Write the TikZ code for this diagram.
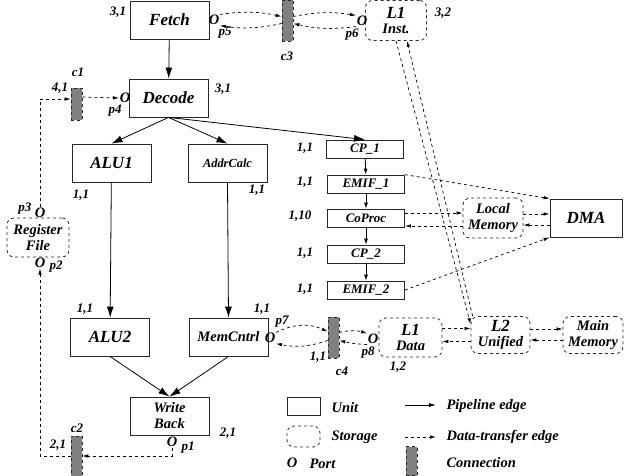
\documentclass[tikz,border=0pt]{standalone}
\usepackage{fontspec}
\setmainfont{Liberation Serif}
\usepackage{tikz}
\usetikzlibrary{positioning,arrows.meta,calc}
\definecolor{ConnGray}{RGB}{128,128,128}
\definecolor{EdgeBlack}{RGB}{40,40,40}
\newcommand{\fbig}{\fontsize{17}{18}\selectfont\bfseries\itshape}
\newcommand{\fmid}{\fontsize{14.5}{16}\selectfont\bfseries\itshape}
\newcommand{\fcpu}{\fontsize{13}{15}\selectfont\bfseries\itshape}
\newcommand{\fsml}{\fontsize{12.4}{14}\selectfont\bfseries\itshape}
\newcommand{\fnum}{\fontsize{13}{14}\selectfont\bfseries\itshape}

\begin{document}
\begin{tikzpicture}[x=1pt,y=-1pt,
unit/.style={draw=EdgeBlack,line width=0.8pt,inner sep=0pt,minimum width=79pt,minimum height=38pt,font=\fbig,align=center},
cpu/.style={unit,minimum width=77pt,minimum height=18pt,font=\fcpu},
store/.style={draw=EdgeBlack,line width=0.8pt,dashed,rounded corners=7pt,inner sep=0pt,font=\fmid,align=center},
conn/.style={draw=EdgeBlack,dashed,fill=ConnGray,line width=0.6pt,minimum width=11pt,inner sep=0pt},
port/.style={font=\fmid,inner sep=0.5pt},
lbl/.style={font=\fnum,inner sep=0pt},
pipe/.style={line width=0.8pt,-{Latex[length=11pt,width=7pt]}},
pipesm/.style={line width=0.8pt,-{Latex[length=6pt,width=4pt]}},
xfer/.style={line width=0.7pt,dashed,-{Latex[length=6pt,width=3.5pt]}}
]
\useasboundingbox (0,0) rectangle (625,475);
% pipeline units
\node[unit] (fetch) at (169.5,20) {Fetch};
\node[unit] (decode) at (168.5,98) {Decode};
\node[unit] (alu1) at (111.5,163) {ALU1};
\node[unit,font=\fsml] (addr) at (227.5,163) {AddrCalc};
\node[unit] (alu2) at (110,337) {ALU2};
\node[unit,font=\fmid] (memc) at (228.5,337) {MemCntrl};
\node[unit,font=\fmid] (wb) at (169.5,416) {Write\\Back};
\node[cpu] (cp1) at (365,149) {CP\_1};
\node[cpu] (emif1) at (366,184) {EMIF\_1};
\node[cpu] (coproc) at (366,218) {CoProc};
\node[cpu] (cp2) at (366,254) {CP\_2};
\node[cpu] (emif2) at (366,290) {EMIF\_2};
\node[unit,minimum width=72pt] (dma) at (586,218) {DMA};
% storages
\node[store,minimum width=61pt,minimum height=40pt] (l1i) at (396,20.5) {{\fbig L1}\\[-1pt]Inst.};
\node[store,minimum width=62pt,minimum height=39pt] (regf) at (38,237.5) {Register\\File};
\node[store,minimum width=60pt,minimum height=40pt] (locmem) at (493,218) {Local\\Memory};
\node[store,minimum width=63pt,minimum height=39pt] (l1d) at (410.5,337.5) {{\fbig L1}\\[-1pt]Data};
\node[store,minimum width=59pt,minimum height=37pt] (l2) at (500.5,335) {{\fbig L2}\\[-1pt]Unified};
\node[store,minimum width=60pt,minimum height=37pt] (mainm) at (593,335) {Main\\Memory};
% connections
\node[conn,minimum height=41pt] (c3) at (287.5,20.5) {};
\node[conn,minimum height=32pt] (c1) at (76.5,104) {};
\node[conn,minimum height=41pt] (c4) at (333.5,337.5) {};
\node[conn,minimum height=40pt] (c2) at (76.5,456) {};
\node[lbl] at (287,56) {c3};
\node[lbl] at (78,72) {c1};
\node[lbl] at (342,371) {c4};
\node[lbl] at (77,428) {c2};
% ports
\node[port] (p5) at (214,20) {O};
\node[port] (p6) at (362,21) {O};
\node[port] (p4) at (125,98) {O};
\node[port] (p3) at (40,213) {O};
\node[port] (p2) at (40,263) {O};
\node[port] (p1) at (172,442) {O};
\node[port] (p7) at (270,338) {O};
\node[port] (p8) at (373,339) {O};
\node[lbl] at (225,33) {p5};
\node[lbl] at (352,35) {p6};
\node[lbl] at (115,111) {p4};
\node[lbl] at (25,209) {p3};
\node[lbl] at (56,267) {p2};
\node[lbl] at (188,448) {p1};
\node[lbl] at (282,322) {p7};
\node[lbl] at (368,353) {p8};
% latency labels
\node[lbl] at (118,12) {3,1};
\node[lbl] at (223,89) {3,1};
\node[lbl] at (443,13) {3,2};
\node[lbl] at (60,88) {4,1};
\node[lbl] at (81,195) {1,1};
\node[lbl] at (257,190) {1,1};
\node[lbl] at (305,148) {1,1};
\node[lbl] at (305,182) {1,1};
\node[lbl] at (300,216) {1,10};
\node[lbl] at (305,253) {1,1};
\node[lbl] at (305,289) {1,1};
\node[lbl] at (85,309) {1,1};
\node[lbl] at (262,309) {1,1};
\node[lbl] at (228,433) {2,1};
\node[lbl] at (58,445) {2,1};
\node[lbl] at (318,357) {1,1};
\node[lbl] at (398,367) {1,2};
% pipeline edges
\draw[pipe] (fetch) -- (decode);
\draw[pipe] (decode.south) -- (alu1.north);
\draw[pipe] (decode.south) -- (addr.north);
\draw[pipe] (decode.south) -- (cp1.north);
\draw[pipe] (alu1) -- (alu2);
\draw[pipe] (addr.south) -- (memc.north);
\draw[pipe] (alu2.south) -- (wb.north);
\draw[pipe] (memc.south) -- (wb.north);
\draw[pipesm] (cp1) -- (emif1);
\draw[pipesm] (emif1) -- (coproc);
\draw[pipesm] (coproc) -- (cp2);
\draw[pipesm] (cp2) -- (emif2);
% data-transfer edges
\draw[xfer] (p5.north east) to[bend left=10] ([yshift=4pt]c3.west);
\draw[xfer] ([yshift=-3pt]c3.west) to[bend left=10] (p5.south east);
\draw[xfer] ([yshift=4pt]c3.east) to[bend left=10] (p6.north west);
\draw[xfer] (p6.south west) to[bend left=10] ([yshift=-3pt]c3.east);
\draw[xfer] ([yshift=7pt]c1.east) -- (p4.west);
\draw[xfer] (p3.north) |- ([yshift=5pt]c1.west);
\draw[xfer] (p1.south) |- (c2.east);
\draw[xfer] (c2.west) -| (p2.south);
\draw[xfer] (p7.north east) to[bend left=25] ([yshift=6pt]c4.west);
\draw[xfer] ([yshift=-3pt]c4.west) to[bend left=15] (p7.south east);
\draw[xfer] ([yshift=5pt]c4.east) to[bend left=15] (p8.north west);
\draw[xfer] (p8.south west) to[bend left=5] ([yshift=-3pt]c4.east);
\draw[xfer] (l1i.south) -- ([yshift=-8pt]l2.north west);
\draw[xfer] ([xshift=2pt]l2.north west) -- ([xshift=11pt]l1i.south);
\draw[xfer] (emif1.north east) -- (dma.north west);
\draw[xfer] (emif2.east) -- (dma.south west);
\draw[xfer] ([yshift=5pt]coproc.east) -- ([yshift=5pt]coproc.east -| locmem.west);
\draw[xfer] ([yshift=-8pt]coproc.east -| locmem.west) -- ([yshift=-8pt]coproc.east);
\draw[xfer] ([yshift=4pt]locmem.east) -- ([yshift=4pt]locmem.east -| dma.west);
\draw[xfer] ([yshift=-7pt]locmem.east -| dma.west) -- ([yshift=-7pt]locmem.east);
\draw[xfer] ([yshift=9pt]l1d.east) -- ([yshift=9pt]l1d.east -| l2.west);
\draw[xfer] ([yshift=-4pt]l1d.east -| l2.west) -- ([yshift=-4pt]l1d.east);
\draw[xfer] ([yshift=6pt]l2.east) -- ([yshift=6pt]l2.east -| mainm.west);
\draw[xfer] ([yshift=-5pt]l2.east -| mainm.west) -- ([yshift=-5pt]l2.east);
% legend
\node[unit,minimum width=33pt,minimum height=18pt] (lgunit) at (303.5,406) {};
\node[store,minimum width=33pt,minimum height=21pt] (lgstore) at (303.5,436.5) {};
\node[port] (lgport) at (292,463) {O};
\node[conn,minimum height=29pt] (lgconn) at (411.5,461) {};
\coordinate (pe1) at (405,405);
\coordinate (pe2) at (436,405);
\coordinate (de1) at (405,437);
\coordinate (de2) at (436,437);
\draw[line width=0.8pt,-{Latex[length=7pt,width=4pt]}] (pe1) -- (pe2);
\draw[xfer] (de1) -- (de2);
\node[font=\fmid,anchor=west] at (328,408) {Unit};
\node[font=\fmid,anchor=west] at (328,437) {Storage};
\node[font=\fmid,anchor=west] at (306,464) {Port};
\node[font=\fmid,anchor=west] at (443,406) {Pipeline edge};
\node[font=\fmid,anchor=west] at (443,437) {Data-transfer edge};
\node[font=\fmid,anchor=west] at (443,463) {Connection};
\end{tikzpicture}
\end{document}
